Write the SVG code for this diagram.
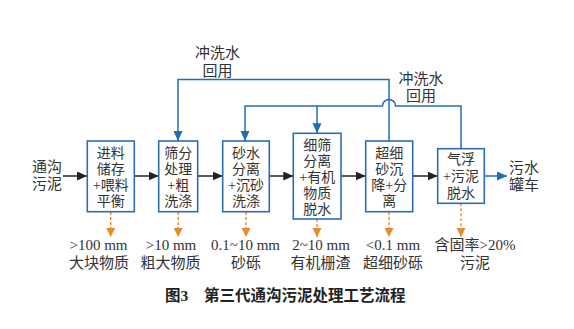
<svg xmlns="http://www.w3.org/2000/svg" width="574" height="329" viewBox="0 0 574 329">
<style>
text{font-family:"Liberation Serif","Noto Sans CJK SC",serif;fill:#333;text-anchor:middle}
.bt{font-size:14px}
.lt{font-size:15px}
.cap{font-size:15.5px;font-weight:bold;fill:#222;text-anchor:start}
.box{fill:#fff;stroke:#2d6db4;stroke-width:1.6}
.blk{fill:none;stroke:#222;stroke-width:1.5}
.blu{fill:none;stroke:#1f6db5;stroke-width:1.5}
.org{fill:none;stroke:#e88a2c;stroke-width:1.4;stroke-dasharray:3 2}
</style>
<defs>
<marker id="ab" markerUnits="userSpaceOnUse" markerWidth="11" markerHeight="10" refX="10" refY="4.5" orient="auto"><path d="M0,0 L10,4.5 L0,9 z" fill="#222"/></marker>
<marker id="au" markerUnits="userSpaceOnUse" markerWidth="11" markerHeight="10" refX="10" refY="4.5" orient="auto"><path d="M0,0 L10,4.5 L0,9 z" fill="#1f6db5"/></marker>
<marker id="ao" markerUnits="userSpaceOnUse" markerWidth="10" markerHeight="10" refX="9" refY="4.5" orient="auto"><path d="M0,0 L9,4.5 L0,9 z" fill="#e88a2c"/></marker>
</defs>

<g id="connectors">
<path class="blk" d="M63,176 H87" marker-end="url(#ab)"/>
<path class="blk" d="M134.3,176 H158.7" marker-end="url(#ab)"/>
<path class="blk" d="M197.7,176 H222.7" marker-end="url(#ab)"/>
<path class="blk" d="M269.3,176 H293.3" marker-end="url(#ab)"/>
<path class="blk" d="M341,176 H365.7" marker-end="url(#ab)"/>
<path class="blk" d="M412.7,176 H437.7" marker-end="url(#ab)"/>
<path class="blu" d="M484.3,176 H507" marker-end="url(#au)"/>
<path class="blu" d="M389,141 V79.5 H178 V141" marker-end="url(#au)"/>
<path class="blu" d="M461,148.7 V106 H395.5 A6.5,6.5 0 0 0 382.5,106 H245 V141" marker-end="url(#au)"/>
<path class="blu" d="M317,106 V133.3" marker-end="url(#au)"/>
<path class="org" d="M110.7,212 V237" marker-end="url(#ao)"/>
<path class="org" d="M178.2,212 V237" marker-end="url(#ao)"/>
<path class="org" d="M246,212 V237" marker-end="url(#ao)"/>
<path class="org" d="M317,219 V237" marker-end="url(#ao)"/>
<path class="org" d="M389,212 V237" marker-end="url(#ao)"/>
<path class="org" d="M461,203.3 V237" marker-end="url(#ao)"/>
</g>

<g id="n-input"><text class="lt" x="47" y="172">通沟</text><text class="lt" x="47" y="189">污泥</text></g>

<g id="n1"><rect class="box" x="87.3" y="141" width="47" height="70.7"/>
<text class="bt" x="110.8" y="158">进料</text><text class="bt" x="110.8" y="174">储存</text><text class="bt" x="110.8" y="190">+喂料</text><text class="bt" x="110.8" y="206">平衡</text></g>

<g id="n2"><rect class="box" x="158.7" y="141" width="39" height="70.7"/>
<text class="bt" x="178.2" y="158">筛分</text><text class="bt" x="178.2" y="174">处理</text><text class="bt" x="178.2" y="190">+粗</text><text class="bt" x="178.2" y="206">洗涤</text></g>

<g id="n3"><rect class="box" x="222.7" y="141" width="46.6" height="70.7"/>
<text class="bt" x="246" y="158">砂水</text><text class="bt" x="246" y="174">分离</text><text class="bt" x="246" y="190">+沉砂</text><text class="bt" x="246" y="206">洗涤</text></g>

<g id="n4"><rect class="box" x="293.3" y="133.3" width="47.7" height="85.7"/>
<text class="bt" x="317.2" y="150">细筛</text><text class="bt" x="317.2" y="166">分离</text><text class="bt" x="317.2" y="182">+有机</text><text class="bt" x="317.2" y="198">物质</text><text class="bt" x="317.2" y="214">脱水</text></g>

<g id="n5"><rect class="box" x="365.7" y="141" width="47" height="70.7"/>
<text class="bt" x="389.2" y="158">超细</text><text class="bt" x="389.2" y="174">砂沉</text><text class="bt" x="389.2" y="190">降+分</text><text class="bt" x="389.2" y="206">离</text></g>

<g id="n6"><rect class="box" x="437.7" y="148.7" width="46.6" height="54.6"/>
<text class="bt" x="461" y="164">气浮</text><text class="bt" x="461" y="181">+污泥</text><text class="bt" x="461" y="198">脱水</text></g>

<g id="n-output"><text class="lt" x="524" y="173">污水</text><text class="lt" x="524" y="190">罐车</text></g>

<g id="lbl-reuse1"><text class="lt" x="217.5" y="58">冲洗水</text><text class="lt" x="217.5" y="76">回用</text></g>
<g id="lbl-reuse2"><text class="lt" x="421" y="84">冲洗水</text><text class="lt" x="421" y="101">回用</text></g>

<g id="outputs">
<text class="lt" x="98.5" y="250">&gt;100 mm</text><text class="lt" x="99" y="268">大块物质</text>
<text class="lt" x="171" y="250">&gt;10 mm</text><text class="lt" x="170.5" y="268">粗大物质</text>
<text class="lt" x="245.5" y="250">0.1~10 mm</text><text class="lt" x="246" y="268">砂砾</text>
<text class="lt" x="321" y="250">2~10 mm</text><text class="lt" x="320.5" y="268">有机栅渣</text>
<text class="lt" x="393" y="250">&lt;0.1 mm</text><text class="lt" x="393" y="268">超细砂砾</text>
<text class="lt" x="475" y="250">含固率&gt;20%</text><text class="lt" x="475" y="268">污泥</text>
</g>

<g id="caption"><text class="cap" x="165" y="301">图3</text><text class="cap" x="204" y="301">第三代通沟污泥处理工艺流程</text></g>
</svg>
